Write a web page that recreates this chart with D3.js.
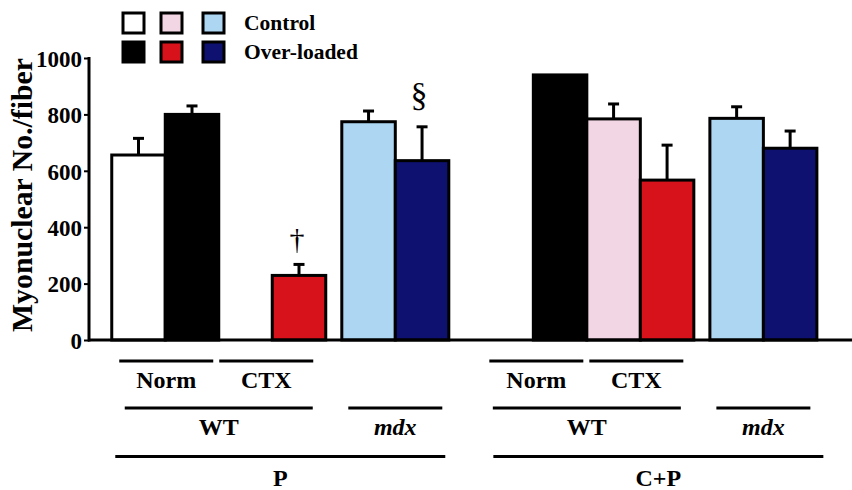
<!DOCTYPE html>
<html>
<head>
<meta charset="utf-8">
<script src="https://cdn.jsdelivr.net/npm/d3@7/dist/d3.min.js"></script>
<style>
  html, body { margin: 0; padding: 0; background: #fff; }
  svg { display: block; }
  text { font-family: "Liberation Serif", "Times New Roman", serif; font-weight: bold; fill: #000; }
</style>
</head>
<body>
<svg id="chart" width="852" height="490"></svg>
<script>
// ---------- DATA ----------
const groups = ["P", "C+P"];
const genotypes = ["WT", "mdx"];
const conditions = ["Norm", "CTX"];
const seriesNames = ["Control", "Over-loaded"];

// one entry per bar slot (null = no bar)
const barGroup     = ["P", "P", "P", "P", "P", "P", "C+P", "C+P", "C+P", "C+P", "C+P", "C+P"];
const barSubgroup  = ["Norm", "Norm", "CTX", "CTX", "mdx", "mdx", "Norm", "Norm", "CTX", "CTX", "mdx", "mdx"];
const barTreatment = ["Control", "Over-loaded", "Control", "Over-loaded", "Control", "Over-loaded",
                      "Control", "Over-loaded", "Control", "Over-loaded", "Control", "Over-loaded"];
const barMean = [656, 800, null, 229, 774, 636, null, 940, 784, 567, 786, 680];
const barSEM  = [59, 30, null, 39, 38, 120, null, 0, 53, 124, 41, 61];

const yTicks = [0, 200, 400, 600, 800, 1000];
const yLabel = "Myonuclear No./fiber";

// significance marks: [bar index, symbol]
const markBar = [3, 5];
const markSymbol = ["\u2020", "\u00A7"];

// ---------- STYLE / LAYOUT ----------
const colors = {
  Norm: { "Control": "#ffffff", "Over-loaded": "#000000" },
  CTX:  { "Control": "#f3d6e3", "Over-loaded": "#d8121b" },
  mdx:  { "Control": "#acd6f2", "Over-loaded": "#0e1170" }
};
const legendFills = [
  ["#ffffff", "#f3d6e3", "#acd6f2"],
  ["#000000", "#d8121b", "#0e1170"]
];
const groupOffset = { "P": 0, "C+P": 6.88 };
const subOffset = { "Norm": 0, "CTX": 2, "mdx": 4.3 };
const treatOffset = { "Control": 0, "Over-loaded": 1 };
const bracketShift = { "P": { Norm: 1, CTX: -6 }, "C+P": { Norm: 3, CTX: -4 } };

function slotOf(i) {
  return groupOffset[barGroup[i]] + subOffset[barSubgroup[i]] + treatOffset[barTreatment[i]];
}

const svg = d3.select("#chart");
const x = d3.scaleLinear().domain([0, 1]).range([138.5, 192]);
const unit = x(1) - x(0);
const y = d3.scaleLinear().domain([0, 1000]).range([340, 58]);

// ---------- BARS ----------
const idx = d3.range(barMean.length).filter(i => barMean[i] !== null);

svg.append("g").selectAll("rect").data(idx).join("rect")
  .attr("x", i => x(slotOf(i)) - unit / 2)
  .attr("width", unit)
  .attr("y", i => y(barMean[i]))
  .attr("height", i => y(0) - y(barMean[i]))
  .attr("fill", i => colors[barSubgroup[i]][barTreatment[i]])
  .attr("stroke", "#000")
  .attr("stroke-width", 3);

// error bars (upper only)
const eg = svg.append("g").attr("stroke", "#000").attr("stroke-width", 3);
idx.filter(i => barSEM[i] > 0).forEach(i => {
  const cx = x(slotOf(i));
  eg.append("line").attr("x1", cx).attr("x2", cx)
    .attr("y1", y(barMean[i])).attr("y2", y(barMean[i] + barSEM[i]));
  eg.append("line").attr("x1", cx - 5.5).attr("x2", cx + 5.5)
    .attr("y1", y(barMean[i] + barSEM[i])).attr("y2", y(barMean[i] + barSEM[i]));
});

// significance symbols
const markSize = [30, 34];
const markLift = [15, 21];
const markDx = [-2, -3];
markBar.forEach((b, k) => {
  svg.append("text")
    .attr("x", x(slotOf(b)) + markDx[k])
    .attr("y", y(barMean[b] + barSEM[b]) - markLift[k])
    .attr("text-anchor", "middle")
    .attr("font-size", markSize[k])
    .style("font-weight", "normal")
    .text(markSymbol[k]);
});

// ---------- AXES ----------
const yAxis = d3.axisLeft(y).tickValues(yTicks).tickFormat(d3.format("d"))
  .tickSize(5).tickSizeOuter(0).tickPadding(2);
const ga = svg.append("g").attr("transform", "translate(89,0)").call(yAxis);
ga.select(".domain").attr("stroke-width", 3).attr("d", "M0," + (y(1000) - 1) + "V" + (y(0) + 1.5));
ga.selectAll(".tick line").attr("stroke-width", 2);
ga.selectAll(".tick text")
  .attr("font-size", 23)
  .attr("font-family", "Liberation Serif, Times New Roman, serif")
  .attr("font-weight", "bold")
  .attr("fill", "#000")
  .attr("dy", "0.36em");

svg.append("line")
  .attr("x1", 88).attr("x2", 852)
  .attr("y1", y(0)).attr("y2", y(0))
  .attr("stroke", "#000").attr("stroke-width", 3);

svg.append("text")
  .attr("transform", "translate(31.5,195) rotate(-90)")
  .attr("text-anchor", "middle")
  .attr("font-size", 29)
  .attr("textLength", 274)
  .attr("lengthAdjust", "spacingAndGlyphs")
  .text(yLabel);

// ---------- CATEGORY BRACKETS ----------
const lab = svg.append("g");
function hline(cx, halfLen, yy) {
  lab.append("line").attr("x1", cx - halfLen).attr("x2", cx + halfLen)
    .attr("y1", yy).attr("y2", yy).attr("stroke", "#000").attr("stroke-width", 3);
}
function label(cx, yy, t, italic) {
  lab.append("text").attr("x", cx).attr("y", yy).attr("text-anchor", "middle")
    .attr("font-size", 24).style("font-style", italic ? "italic" : "normal").text(t);
}
groups.forEach(g => {
  const go = groupOffset[g];
  conditions.forEach(c => {
    const cx = x(go + subOffset[c] + 0.5) + bracketShift[g][c];
    hline(cx, 47, 361);
    label(cx, 388, c, false);
  });
  const wtCx = (x(go + subOffset["Norm"] + 0.5) + x(go + subOffset["CTX"] + 0.5)) / 2;
  hline(wtCx, 94, 408);
  label(wtCx, 435, genotypes[0], false);
  const mdxCx = x(go + subOffset["mdx"] + 0.5);
  hline(mdxCx, 47, 408);
  label(mdxCx, 435, genotypes[1], true);
  const gCx = (x(go - 0.5) + x(go + subOffset["mdx"] + 1.5)) / 2 + (g === "C+P" ? 10 : 0);
  hline(gCx, 165, 456.5);
  label(gCx, 485.5, g, false);
});

// ---------- LEGEND ----------
const lg = svg.append("g");
const boxX = [123, 161, 203];
const rowY = [13, 42];
legendFills.forEach((row, r) => {
  row.forEach((f, c) => {
    lg.append("rect").attr("x", boxX[c]).attr("y", rowY[r])
      .attr("width", 21).attr("height", 20)
      .attr("fill", f).attr("stroke", "#000").attr("stroke-width", 3);
  });
  lg.append("text").attr("x", 244).attr("y", rowY[r] + 17)
    .attr("font-size", 21.5).text(seriesNames[r]);
});
</script>
</body>
</html>
